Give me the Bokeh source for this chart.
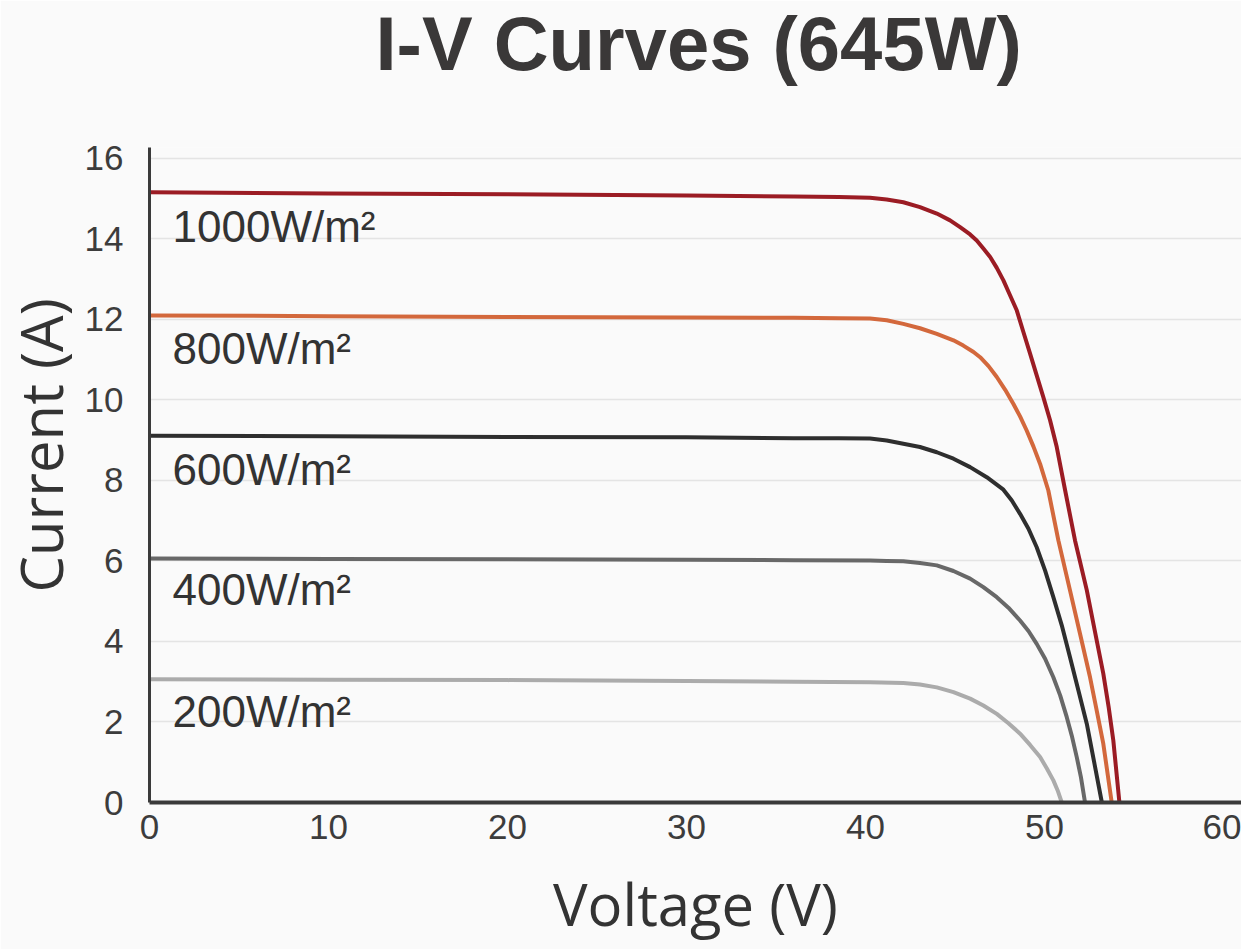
from bokeh.plotting import figure
from bokeh.models import Range1d, Title
from bokeh.core.properties import value
from bokeh.embed import file_html
from bokeh.resources import INLINE

# ---------------- data ----------------
title_text = "I-V Curves (645W)"
x_label = "Voltage (V)"
y_label = "Current (A)"

series_names = ["1000W/m²", "800W/m²", "600W/m²", "400W/m²", "200W/m²"]
series_colors = ["#9b1c24", "#d3683c", "#2e2e2e", "#686868", "#ababab"]

v_1000 = [0, 10, 20, 30, 36, 38.5, 40.25, 41.18, 42.11, 43.04, 43.98, 44.72, 45.28,
          45.84, 46.21, 46.58, 46.96, 47.33, 47.70, 48.07, 48.45, 48.82, 49.19, 49.56,
          49.93, 50.31, 50.68, 51.15, 51.7, 52.36, 52.82, 53.28, 53.58, 53.84, 54.18]
i_1000 = [15.16, 15.13, 15.11, 15.08, 15.05, 15.04, 15.02, 14.98, 14.91, 14.79, 14.63, 14.46, 14.29,
          14.11, 13.96, 13.76, 13.55, 13.28, 12.97, 12.60, 12.22, 11.68, 11.15, 10.61,
          10.07, 9.49, 8.83, 7.75, 6.51, 5.27, 4.23, 3.20, 2.37, 1.54, 0]

v_800 = [0, 10, 20, 30, 36, 38.5, 40.25, 41.18, 42.11, 43.04, 43.98, 44.91, 45.46, 46.03,
         46.40, 46.87, 47.33, 47.80, 48.26, 48.63, 49.00, 49.38, 49.75, 50.21, 50.77,
         51.42, 51.98, 52.54, 52.91, 53.28, 53.75]
i_800 = [12.10, 12.08, 12.06, 12.05, 12.04, 12.03, 12.02, 11.98, 11.89, 11.78, 11.64, 11.48, 11.35, 11.19,
         11.06, 10.84, 10.57, 10.25, 9.90, 9.59, 9.24, 8.84, 8.41, 7.75, 6.51,
         5.27, 4.19, 3.11, 2.29, 1.46, 0]

v_600 = [0, 10, 20, 30, 36, 38.5, 40.25, 41.18, 42.11, 43.04, 43.98, 44.91, 45.84, 46.77,
         47.70, 48.17, 48.63, 49.10, 49.56, 50.03, 50.49, 50.96, 51.42, 51.89, 52.36,
         52.77, 53.2]
i_600 = [9.11, 9.10, 9.08, 9.07, 9.05, 9.05, 9.04, 8.99, 8.91, 8.83, 8.70, 8.54, 8.33, 8.08,
         7.77, 7.50, 7.17, 6.80, 6.34, 5.76, 5.10, 4.40, 3.61, 2.78, 1.95,
         1.00, 0]

v_400 = [0, 10, 20, 30, 36, 40.25, 41.18, 42.11, 43.04, 43.98, 44.91, 45.84, 46.58, 47.33,
         47.98, 48.63, 49.10, 49.56, 50.03, 50.49, 50.87, 51.24, 51.52, 51.80, 52.03, 52.26]
i_400 = [6.06, 6.05, 6.04, 6.03, 6.02, 6.01, 6.00, 5.99, 5.95, 5.89, 5.75, 5.56, 5.35, 5.10,
         4.84, 4.52, 4.26, 3.94, 3.57, 3.11, 2.66, 2.12, 1.66, 1.12, 0.63, 0]

v_200 = [0, 10, 20, 30, 36, 40.25, 42.11, 43.04, 43.98, 44.91, 45.84, 46.58, 47.33, 47.98,
         48.63, 49.19, 49.75, 50.12, 50.49, 50.73, 50.96]
i_200 = [3.06, 3.05, 3.04, 3.02, 3.00, 2.99, 2.97, 2.93, 2.86, 2.74, 2.58, 2.41, 2.20, 1.97,
         1.71, 1.43, 1.13, 0.85, 0.55, 0.30, 0]

label_voltage = [0, 0, 0, 0, 0]
label_current = [14.3, 11.27, 8.27, 5.3, 2.27]

x_ticks = [0, 10, 20, 30, 40, 50, 60]
y_ticks = [0, 2, 4, 6, 8, 10, 12, 14, 16]

voltages = [v_1000, v_800, v_600, v_400, v_200]
currents = [i_1000, i_800, i_600, i_400, i_200]

# ---------------- figure ----------------
BG = "#fafafa"
TXT = "#333333"

p = figure(width=1241, height=949, output_backend="svg", toolbar_location=None,
           title=None,
           x_range=Range1d(0, 61), y_range=Range1d(0, 16.27),
           min_border_left=149, min_border_right=0, min_border_top=147,
           min_border_bottom=147,
           background_fill_color=BG, border_fill_color=BG, outline_line_color=None)

# spacer between frame and title (closest to the frame), then the title
p.add_layout(Title(text=" ", text_font_size="2px", standoff=56), "above")
p.add_layout(Title(text=title_text, align="left", offset=226, vertical_align="top",
                   standoff=0,
                   text_font="Liberation Sans", text_font_size="76px",
                   text_font_style="bold", text_color="#3a3838"), "above")

# grid
p.xgrid.grid_line_color = None
p.ygrid.ticker = y_ticks
p.ygrid.grid_line_color = "#e4e4e4"
p.ygrid.grid_line_width = 1.5

# axes
p.xaxis.ticker = x_ticks
p.yaxis.ticker = y_ticks
for ax in (p.xaxis, p.yaxis):
    ax.axis_line_color = "#3a3a3a"
    ax.major_tick_line_color = None
    ax.minor_tick_line_color = None
    ax.major_tick_out = 0
    ax.major_tick_in = 0
    ax.minor_tick_out = 0
    ax.major_label_text_font = "Liberation Sans"
    ax.major_label_text_font_size = "35px"
    ax.major_label_text_color = "#3c3c3c"
p.xaxis.axis_line_width = 4
p.yaxis.axis_line_width = 3
p.xaxis.major_label_standoff = 12
p.yaxis.major_label_standoff = 26

p.xaxis.axis_label = x_label
p.xaxis.axis_label_text_font = "Open Sans"
p.xaxis.axis_label_text_font_size = "58px"
p.xaxis.axis_label_text_font_style = "normal"
p.xaxis.axis_label_text_color = TXT
p.xaxis.axis_label_standoff = 22

# y axis title as a left-side title, anchored from the bottom and shifted up
p.add_layout(Title(text=y_label, align="left", offset=210, vertical_align="top",
                   standoff=0,
                   text_font="Open Sans", text_font_size="58px",
                   text_font_style="normal", text_color=TXT), "left")

# curves
for v, i, c in zip(voltages, currents, series_colors):
    p.line(v, i, line_color=c, line_width=4, line_join="round", line_cap="round")

# curve labels
p.text(x=label_voltage, y=label_current, text=series_names, x_offset=23,
       text_font=value("Liberation Sans"), text_font_size="44px",
       text_color=TXT, text_align="left", text_baseline="middle")

open("out.html", "w").write(file_html(p, INLINE))
